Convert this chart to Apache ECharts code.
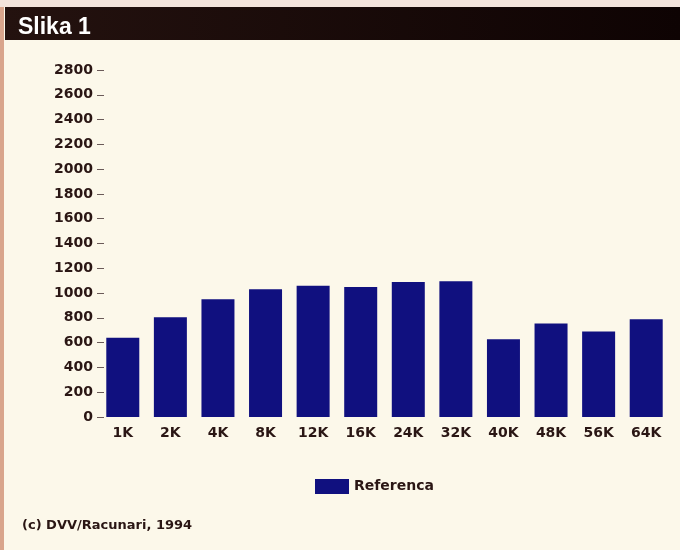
<!DOCTYPE html>
<html>
<head>
<meta charset="utf-8">
<style>
  html, body { margin: 0; padding: 0; background: #fcf8ea; }
  #chart { width: 680px; height: 550px; }
</style>
<script src="https://cdn.jsdelivr.net/npm/echarts@6/dist/echarts.min.js"></script>
</head>
<body>
<div id="chart"></div>
<script>
// Block sizes tested
const categories = ['1K', '2K', '4K', '8K', '12K', '16K', '24K', '32K', '40K', '48K', '56K', '64K'];
// Reference results per block size
const referenca = [640, 805, 950, 1030, 1060, 1050, 1090, 1095, 627, 755, 690, 788];
// Value axis range
const yMin = 0;
const yMax = 2800;
const yStep = 200;

const seriesName = 'Referenca';
const titleText = 'Slika 1';
const footerText = '(c) DVV/Racunari, 1994';

const ink = '#2a1614';
const barColor = '#10107f';
const wideFont = '"DejaVu Sans", Verdana, sans-serif';
const headFont = '"Liberation Sans", Arial, Helvetica, sans-serif';

const chart = echarts.init(document.getElementById('chart'));

chart.setOption({
  backgroundColor: '#fcf8ea',
  animation: false,
  graphic: [
    // pale strip above the heading band
    { type: 'rect', shape: { x: 0, y: 0, width: 680, height: 7 }, style: { fill: '#f3e4dc' }, silent: true },
    // dark heading band
    {
      type: 'rect', shape: { x: 5, y: 7, width: 675, height: 33 },
      style: {
        fill: new echarts.graphic.LinearGradient(0, 0, 1, 0, [
          { offset: 0, color: '#24120f' },
          { offset: 1, color: '#0e0303' }
        ])
      },
      silent: true
    },
    // left border
    { type: 'rect', shape: { x: 0, y: 7, width: 4, height: 543 }, style: { fill: '#d9a58c' }, silent: true },
    {
      type: 'text', left: 22, top: 519,
      style: { text: footerText, fill: ink, font: 'bold 13px ' + wideFont }
    }
  ],
  title: {
    text: titleText,
    left: 13,
    top: 11,
    textStyle: { color: '#ffffff', fontSize: 23, fontWeight: 'bold', fontFamily: headFont }
  },
  legend: {
    data: [seriesName],
    left: 310,
    top: 474,
    icon: 'rect',
    itemWidth: 34,
    itemHeight: 15,
    itemGap: 6,
    textStyle: { color: ink, fontSize: 14, fontWeight: 'bold', fontFamily: wideFont }
  },
  grid: {
    left: 99,
    right: 10,
    top: 70,
    bottom: 133
  },
  xAxis: {
    type: 'category',
    data: categories,
    axisLine: { show: false },
    axisTick: { show: false },
    axisLabel: {
      color: ink, fontSize: 14, fontWeight: 'bold', fontFamily: wideFont, margin: 9
    }
  },
  yAxis: {
    type: 'value',
    min: yMin,
    max: yMax,
    interval: yStep,
    offset: -5,
    axisLine: { show: false },
    axisTick: { show: true, length: 7, inside: false, lineStyle: { color: '#6a5a58', width: 1 } },
    splitLine: { show: false },
    axisLabel: {
      color: ink, fontSize: 14, fontWeight: 'bold', fontFamily: wideFont, margin: 11,
      formatter: function (v) { return String(v); }
    }
  },
  series: [{
    name: seriesName,
    type: 'bar',
    data: referenca,
    barWidth: 33,
    itemStyle: { color: barColor }
  }]
});
</script>
</body>
</html>
